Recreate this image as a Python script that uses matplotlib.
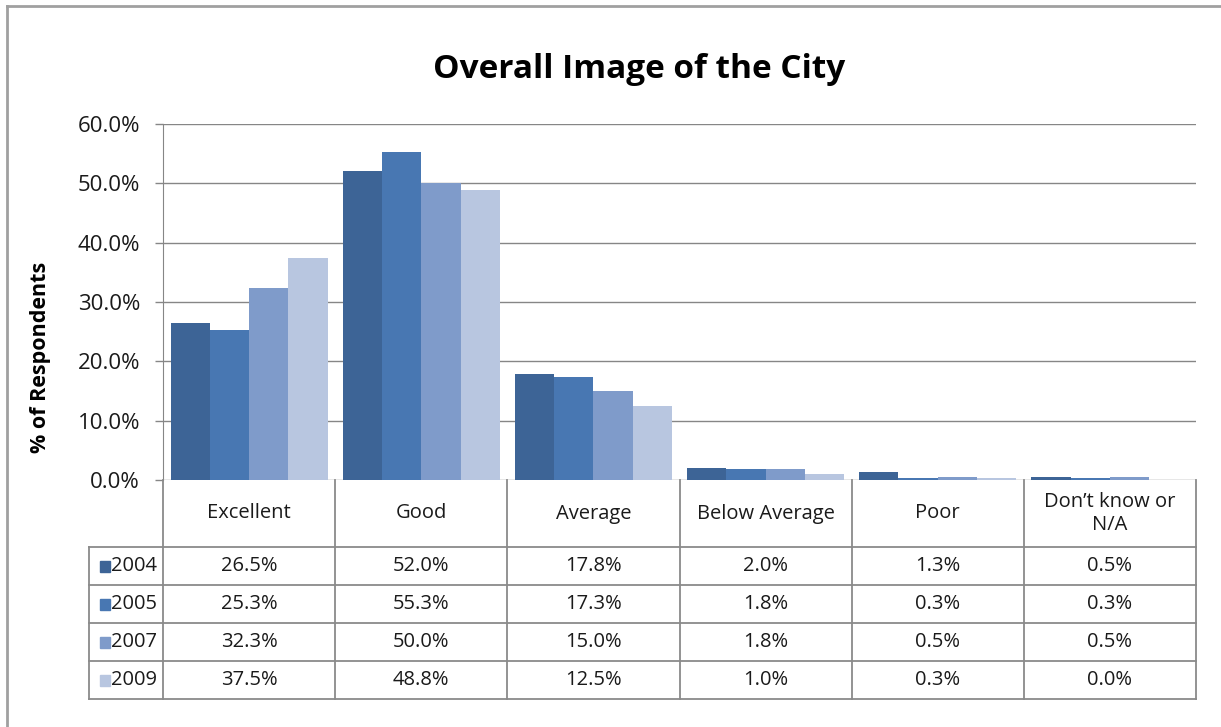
import matplotlib
matplotlib.use("Agg")
import matplotlib.pyplot as plt
from matplotlib.patches import Rectangle
from matplotlib.lines import Line2D
import numpy as np

categories = ["Excellent", "Good", "Average", "Below Average", "Poor", "Don\u2019t know or\nN/A"]
years = ["2004", "2005", "2007", "2009"]
v2004 = [26.5, 52.0, 17.8, 2.0, 1.3, 0.5]
v2005 = [25.3, 55.3, 17.3, 1.8, 0.3, 0.3]
v2007 = [32.3, 50.0, 15.0, 1.8, 0.5, 0.5]
v2009 = [37.5, 48.8, 12.5, 1.0, 0.3, 0.0]
series = [v2004, v2005, v2007, v2009]
colors = ["#3D6496", "#4877B2", "#7F9BCA", "#B8C6E0"]
yticks = [0, 10, 20, 30, 40, 50, 60]

W, H = 1221, 727
plt.rcParams['font.family'] = ['Open Sans', 'DejaVu Sans']
fig = plt.figure(figsize=(W / 100, H / 100), dpi=100)

def fx(px):
    return px / W

def fy(py):
    return 1 - py / H

L, R, T, B = 163, 1196, 124, 480
ax = fig.add_axes([fx(L), fy(B), fx(R) - fx(L), fy(T) - fy(B)])

n = len(categories)
x = np.arange(n)
bw = 0.228
for k, (vals, c) in enumerate(zip(series, colors)):
    ax.bar(x + (k - 1.5) * bw, vals, width=bw, color=c, edgecolor='none', zorder=3)

ax.set_xlim(-0.5, n - 0.5)
ax.set_ylim(0, 60)
ax.set_yticks(yticks)
ax.set_yticklabels([f"{t:.1f}%" for t in yticks], fontsize=16, color='#1a1a1a')
ax.set_xticks([])
ax.grid(axis='y', color='#868686', linewidth=1.0, zorder=0)
for s in ['top', 'right', 'bottom']:
    ax.spines[s].set_visible(False)
ax.spines['left'].set_color('#868686')
ax.tick_params(axis='y', length=6, color='#868686', width=1, pad=10.5)

# Title and y-label
fig.text(fx(639), fy(70), "Overall Image of the City", ha='center', va='center',
         fontsize=24, fontweight='bold', color='#000000')
fig.text(fx(41), fy(357), "% of Respondents", ha='center', va='center', rotation=90,
         fontsize=15.5, fontweight='bold', color='#000000')

# Data table
lc = '#8a8a8a'
col_w = (R - L) / n
col_edges = [L + i * col_w for i in range(n + 1)]
header_bottom = 547
row_edges = [547, 585, 623, 661, 699]
leg_left = 89

def hline(x0, x1, y):
    fig.add_artist(Line2D([fx(x0), fx(x1)], [fy(y), fy(y)], color=lc, linewidth=1.3))

def vline(xp, y0, y1):
    fig.add_artist(Line2D([fx(xp), fx(xp)], [fy(y0), fy(y1)], color=lc, linewidth=1.3))

for xe in col_edges:
    vline(xe, B, row_edges[-1])
vline(leg_left, row_edges[0], row_edges[-1])
for ye in row_edges:
    hline(leg_left, R, ye)

for i, cat in enumerate(categories):
    cx = (col_edges[i] + col_edges[i + 1]) / 2
    fig.text(fx(cx), fy((B + header_bottom) / 2), cat, ha='center', va='center',
             fontsize=14.5, color='#1a1a1a', linespacing=1.2)

for r, (yr, vals, c) in enumerate(zip(years, series, colors)):
    cy = (row_edges[r] + row_edges[r + 1]) / 2
    fig.add_artist(Rectangle((fx(100), fy(cy + 6)), fx(10), 11 / H, color=c))
    fig.text(fx(111), fy(cy), yr, ha='left', va='center', fontsize=14.5, color='#1a1a1a')
    for i, v in enumerate(vals):
        cx = (col_edges[i] + col_edges[i + 1]) / 2
        fig.text(fx(cx), fy(cy), f"{v:.1f}%", ha='center', va='center',
                 fontsize=14.5, color='#1a1a1a')

# Outer chart border (only left and top edges fall inside the image)
fig.add_artist(Line2D([fx(7), fx(7)], [fy(6), 0], color='#a0a0a0', linewidth=2))
fig.add_artist(Line2D([fx(7), 1], [fy(6), fy(6)], color='#a0a0a0', linewidth=2))

fig.savefig("out.png", dpi=100)
